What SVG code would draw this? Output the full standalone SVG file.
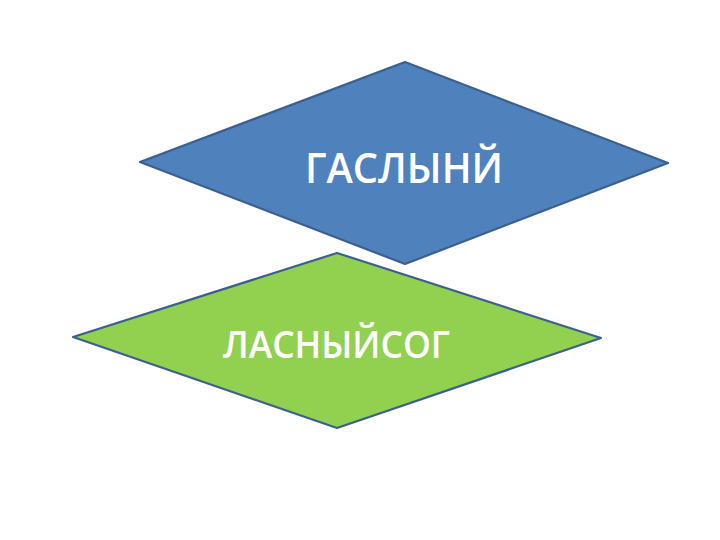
<svg xmlns="http://www.w3.org/2000/svg" width="720" height="540" viewBox="0 0 720 540">
<style>
.d{stroke:#3B5F8F;stroke-width:2.2;stroke-linejoin:round}
.t{font-family:"Open Sans","Liberation Sans",sans-serif;font-weight:600;fill:#fff}
</style>
<rect width="720" height="540" fill="#fff"/>
<g id="node-blue">
<polygon class="d" fill="#4F81BD" points="405,62 668,163 405,264 140,162"/>
<text class="t" x="404" y="183" font-size="42" text-anchor="middle" textLength="198" lengthAdjust="spacingAndGlyphs">ГАСЛЫНЙ</text>
</g>
<g id="node-green">
<polygon class="d" fill="#92D050" points="337,253 601,338 337,428 73,337"/>
<text class="t" x="336.5" y="357.5" font-size="37.5" text-anchor="middle" textLength="227" lengthAdjust="spacingAndGlyphs">ЛАСНЫЙСОГ</text>
</g>
<g id="connectors"></g>
</svg>
